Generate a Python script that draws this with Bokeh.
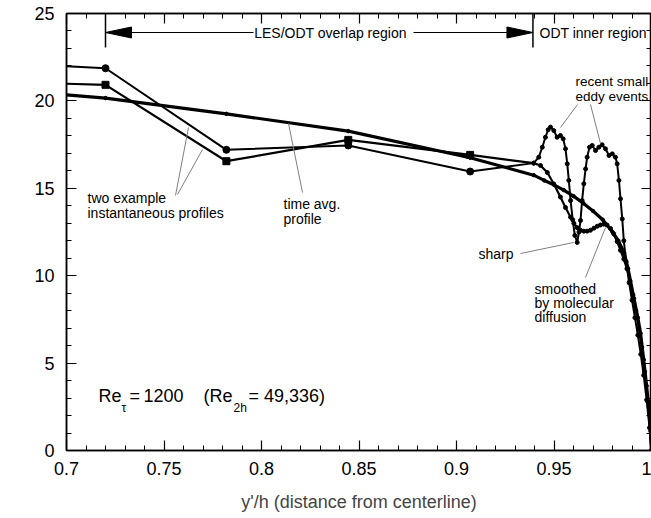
from bokeh.plotting import figure
from bokeh.models import (SingleIntervalTicker, LinearAxis, CustomJSTickFormatter, Label, Range1d)
from bokeh.embed import file_html
from bokeh.resources import INLINE

FONT = "Liberation Sans"
W, H = 651, 518
FL, FR, FT, FB = 66, 651, 13, 450   # frame box (pixels)
x_lo, x_hi, y_lo, y_hi = 0.7, 1.0, 0.0, 25.0

# ---------------- data ----------------
les_x = [0.720, 0.782, 0.8445, 0.907]

# instantaneous profile 1 (circles, sharp eddy events)
inst1_edge_y = 21.98
inst1_les_y = [21.87, 17.20, 17.45, 15.96]
inst1_odt_x = [0.9396, 0.9422, 0.9440, 0.9456, 0.9470, 0.9482, 0.9499, 0.9516, 0.9533, 0.9547,
               0.9559, 0.9568, 0.9576, 0.9585, 0.9596, 0.9607, 0.9619, 0.9628, 0.9636, 0.9644,
               0.9653, 0.9662, 0.9670, 0.9682, 0.9696, 0.9713, 0.9730, 0.9747, 0.9764, 0.9782,
               0.9799, 0.9815, 0.9824, 0.9833, 0.9841, 0.9850, 0.9858, 0.9870, 0.9885, 0.9900,
               0.9915, 0.9930, 0.9945, 0.9960, 0.9975, 0.9990, 1.0]
inst1_odt_y = [16.44, 16.78, 17.35, 17.92, 18.35, 18.50, 18.30, 17.92, 18.02, 17.83,
               17.26, 16.40, 15.45, 14.30, 13.20, 12.30, 11.90, 12.50, 13.16, 14.30,
               15.26, 16.11, 16.78, 17.35, 17.45, 17.16, 17.35, 17.49, 17.26, 16.88,
               16.97, 16.78, 16.40, 15.45, 14.40, 13.25, 12.00, 10.80, 9.60, 8.60,
               7.60, 6.60, 5.50, 4.30, 2.90, 1.30, 0.0]

# instantaneous profile 2 (squares, smoothed by molecular diffusion)
inst2_edge_y = 20.98
inst2_les_y = [20.92, 16.55, 17.77, 16.91]
inst2_odt_x = [0.9396, 0.9431, 0.9466, 0.9499, 0.9533, 0.9559, 0.9585, 0.9602, 0.9619, 0.9636,
               0.9653, 0.9670, 0.9687, 0.9705, 0.9722, 0.9738, 0.9755, 0.9772, 0.9790, 0.9806,
               0.9824, 0.9841, 0.9858, 0.9874, 0.9890, 0.9905, 0.9920, 0.9935, 0.9950, 0.9965,
               0.9980, 0.9992, 1.0]
inst2_odt_y = [16.44, 16.30, 15.90, 15.25, 14.50, 13.90, 13.35, 13.00, 12.75, 12.60,
               12.55, 12.55, 12.60, 12.72, 12.83, 12.90, 12.95, 12.90, 12.70, 12.40,
               11.95, 11.45, 10.95, 10.40, 9.70, 8.90, 8.00, 7.00, 5.90, 4.50,
               2.80, 1.30, 0.0]

# time averaged profile
avg_edge_y = 20.35
avg_les_y = [20.16, 19.26, 18.27, 16.75]
avg_odt_x = [0.9396, 0.945, 0.950, 0.955, 0.960, 0.965, 0.970, 0.975, 0.980, 0.983,
             0.986, 0.988, 0.991, 0.993, 0.9944, 0.996, 0.9975, 0.9986, 0.9995, 1.0]
avg_odt_y = [15.75, 15.45, 15.20, 14.90, 14.55, 14.15, 13.70, 13.20, 12.50, 12.00,
             11.30, 10.40, 8.70, 7.60, 6.70, 5.20, 3.70, 2.50, 1.10, 0.0]

overlap_start = 0.72
odt_start = 0.9392

# ---------------- helpers (pixel -> data for annotations) ----------------
def X(px):
    return x_lo + (px - FL) / (FR - FL) * (x_hi - x_lo)

def Y(py):
    return y_lo + (FB - py) / (FB - FT) * (y_hi - y_lo)

p = figure(width=W, height=H, x_range=Range1d(x_lo, x_hi), y_range=Range1d(y_lo, y_hi),
           output_backend="svg", toolbar_location=None,
           x_axis_location=None, y_axis_location=None,
           min_border_left=FL, min_border_right=0, min_border_top=FT, min_border_bottom=H - FB)
p.grid.visible = False
p.outline_line_color = "black"
p.outline_line_width = 1.5
p.background_fill_color = "white"
p.border_fill_color = "white"

fmt = CustomJSTickFormatter(code="var s = tick.toFixed(2); s = s.replace(/0+$/, ''); return s.replace(/\\.$/, '');")
blank = CustomJSTickFormatter(code="return '';")

def style_axis(ax, tick_in=True):
    ax.major_tick_in = 10 if tick_in else 0
    ax.major_tick_out = 0 if tick_in else 10
    ax.minor_tick_in = 5 if tick_in else 0
    ax.minor_tick_out = 0 if tick_in else 5
    ax.axis_line_color = "black"
    ax.axis_line_width = 1.5
    ax.major_tick_line_width = 1.2
    ax.minor_tick_line_width = 1.0
    ax.major_tick_line_color = "black"
    ax.minor_tick_line_color = "black"
    ax.major_label_text_font = FONT
    ax.major_label_text_font_size = "18px"
    ax.major_label_text_color = "black"

xb = LinearAxis(ticker=SingleIntervalTicker(interval=0.05, num_minor_ticks=5), formatter=fmt)
style_axis(xb)
xb.major_label_standoff = 11
xb.axis_label = "y'/h (distance from centerline)"
xb.axis_label_text_font = FONT
xb.axis_label_text_font_size = "18px"
xb.axis_label_text_font_style = "normal"
xb.axis_label_standoff = 14
p.add_layout(xb, "below")

yl = LinearAxis(ticker=SingleIntervalTicker(interval=5, num_minor_ticks=5))
style_axis(yl)
yl.major_label_standoff = 12
p.add_layout(yl, "left")

# mirrored tick marks on top and right edges (no labels)
xt = LinearAxis(ticker=SingleIntervalTicker(interval=0.05, num_minor_ticks=5), formatter=blank)
style_axis(xt)
xt.major_label_standoff = 0
p.add_layout(xt, "above")

yr = LinearAxis(ticker=SingleIntervalTicker(interval=5, num_minor_ticks=5), formatter=blank,
                fixed_location=x_hi)
style_axis(yr, tick_in=False)
yr.major_label_standoff = 0
p.add_layout(yr, "left")

# ---------------- profiles ----------------
def full(edge, les_y, odt_x, odt_y):
    return [x_lo] + les_x + odt_x, [edge] + les_y + odt_y

ax_, ay_ = full(avg_edge_y, avg_les_y, avg_odt_x, avg_odt_y)
p.line(ax_, ay_, line_color="black", line_width=3.2)
p.scatter(les_x + avg_odt_x, avg_les_y + avg_odt_y, size=3.5, color="black")

x1, y1 = full(inst1_edge_y, inst1_les_y, inst1_odt_x, inst1_odt_y)
p.line(x1, y1, line_color="black", line_width=2)
p.scatter(les_x, inst1_les_y, marker="circle", size=7, color="black")
p.scatter(inst1_odt_x, inst1_odt_y, marker="circle", size=4, color="black")

x2, y2 = full(inst2_edge_y, inst2_les_y, inst2_odt_x, inst2_odt_y)
p.line(x2, y2, line_color="black", line_width=2.2)
p.scatter(les_x, inst2_les_y, marker="square", size=7, color="black")
p.scatter(inst2_odt_x, inst2_odt_y, marker="circle", size=4, color="black")

# ---------------- region markers ----------------
top_line_y0 = Y(FT)
top_line_y1 = Y(47)
arr_y = Y(32)
p.segment([overlap_start, odt_start], [top_line_y0, top_line_y0],
          [overlap_start, odt_start], [top_line_y1, top_line_y1], line_color="black", line_width=1.5)
head_len = X(FL + 26) - X(FL)
head_hw = Y(FB - 5.5) - Y(FB)
p.patch([overlap_start, overlap_start + head_len, overlap_start + head_len],
        [arr_y, arr_y + head_hw, arr_y - head_hw], color="black")
p.patch([odt_start, odt_start - head_len, odt_start - head_len],
        [arr_y, arr_y + head_hw, arr_y - head_hw], color="black")
p.segment([overlap_start + head_len, X(413)], [arr_y, arr_y],
          [X(253), odt_start - head_len], [arr_y, arr_y], line_color="black", line_width=1.2)

# ---------------- leader lines ----------------
lead = [((175, 195), (188, 127)), ((177, 194), (202, 149)),
        ((302, 192), (288, 123)),
        ((577, 104), (560, 127)), ((590, 104), (600, 143)),
        ((520, 253), (573, 242)),
        ((585, 277), (605, 227))]
p.segment([X(a[0]) for a, b in lead], [Y(a[1]) for a, b in lead],
          [X(b[0]) for a, b in lead], [Y(b[1]) for a, b in lead],
          line_color="#808080", line_width=1)

# ---------------- texts ----------------
def txt(s, px, py, size="14px", align="left"):
    p.add_layout(Label(x=X(px), y=Y(py), text=s, text_font=FONT, text_font_size=size,
                       text_align=align, text_baseline="middle", text_color="black"))

txt("LES/ODT overlap region", 330, 32, align="center")
txt("ODT inner region", 539, 32)
txt("two example", 87, 197)
txt("instantaneous profiles", 87, 212)
txt("time avg.", 283, 203)
txt("profile", 283, 218)
txt("recent small", 575, 81, size="13.5px")
txt("eddy events", 575, 96, size="13.5px")
txt("sharp", 513, 253, align="right")
txt("smoothed", 534, 288)
txt("by molecular", 534, 302)
txt("diffusion", 534, 316)

txt("Re", 98, 395, size="18px")
txt("\u03c4", 121, 407, size="12px")
txt("=", 129, 395, size="18px")
txt("1200", 143, 395, size="18px")
txt("(Re", 203, 395, size="18px")
txt("2h", 233, 407, size="12px")
txt("= 49,336)", 248, 395, size="18px")

txt("u", 13, 244, size="18px")
txt("+", 22, 236, size="12px")

open("out.html", "w").write(file_html(p, INLINE))
